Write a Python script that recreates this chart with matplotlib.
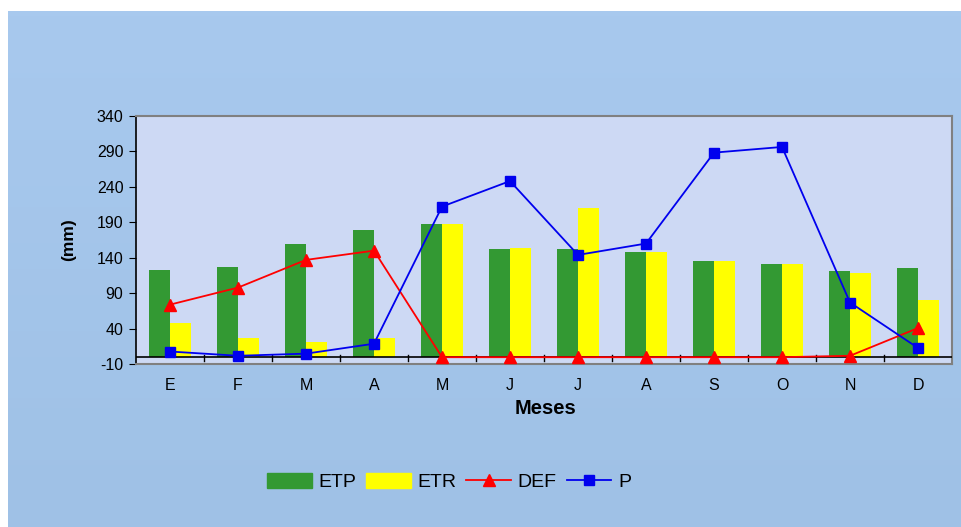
# -*- coding: utf-8 -*-
# Balance hidrico mensual: ETP, ETR, DEF y P
import numpy as np
import matplotlib
matplotlib.use('Agg')
import matplotlib.pyplot as plt
from matplotlib.lines import Line2D
from matplotlib.patches import Patch

plt.rcParams['font.family'] = ['Liberation Sans', 'DejaVu Sans']
plt.rcParams['axes.unicode_minus'] = False

meses = ['E', 'F', 'M', 'A', 'M', 'J', 'J', 'A', 'S', 'O', 'N', 'D']
etp = [123, 127, 160, 179, 187, 152, 152, 148, 135, 131, 121, 126]
etr = [48, 27, 21, 27, 187, 154, 210, 148, 135, 131, 118, 81]
defi = [74, 98, 137, 150, 0, 0, 0, 0, 0, 0, 2, 41]
prec = [8, 2, 5, 19, 212, 248, 144, 160, 288, 296, 77, 13]

fig = plt.figure(figsize=(9.61, 5.27), dpi=100, facecolor='white')

# fondo azul con degradado
bg = fig.add_axes([8/961., 0, 1 - 8/961., 1 - 11/527.])
grad = np.linspace(0, 1, 100).reshape(-1, 1)
bg.imshow(grad, aspect='auto', extent=[0, 1, 0, 1],
          cmap=matplotlib.colors.LinearSegmentedColormap.from_list('bg', ['#a8c9ee', '#9fc1e6']))
bg.axis('off')

ax = fig.add_axes([136/961., 1 - 364.3/527., (952 - 136)/961., (364.3 - 115.7)/527.])
ax.set_facecolor('#cdd9f4')

x = np.arange(len(meses))
w = 0.31
ax.bar(x - w/2, etp, w, color='#339933', zorder=2)
ax.bar(x + w/2, etr, w, color='#ffff00', zorder=2)
ax.plot(x, defi, color='red', marker='^', ms=8, lw=1.3, zorder=4)
ax.plot(x, prec, color='#0000ee', marker='s', ms=6.5, lw=1.3, zorder=5)

ax.set_xlim(-0.5, 11.5)
ax.set_ylim(-10, 340)
ax.set_yticks(np.arange(-10, 341, 50))
ax.set_xticks(x)
ax.set_xticklabels(meses)

# eje x en cero
ax.axhline(0, color='black', lw=1.2, zorder=3)
for t in np.arange(0.5, 11.5, 1):
    ax.plot([t, t], [-5, 3.5], color='black', lw=1, zorder=3)

ax.tick_params(axis='x', which='major', length=0, pad=10, labelsize=11.5)
ax.tick_params(axis='y', direction='out', length=5, labelsize=11.5, pad=4)

for s in ['top', 'right', 'bottom']:
    ax.spines[s].set_color('#808080')
    ax.spines[s].set_linewidth(1.5)
ax.spines['left'].set_color('black')
ax.spines['left'].set_linewidth(1.2)

fig.text(69/961., 1 - 240/527., '(mm)', rotation=90, fontsize=12.5,
         fontweight='bold', ha='center', va='center')
fig.text(545/961., 1 - 408/527., 'Meses', fontsize=14.5,
         fontweight='bold', ha='center', va='center')

handles = [Patch(color='#339933'), Patch(color='#ffff00'),
           Line2D([], [], color='red', marker='^', ms=8, lw=1.3),
           Line2D([], [], color='#0000ee', marker='s', ms=6.5, lw=1.3)]
fig.legend(handles, ['ETP', 'ETR', 'DEF', 'P'], loc='center',
           bbox_to_anchor=(449/961., 1 - 482/527.), ncol=4, frameon=False,
           fontsize=14, handlelength=2.3, handleheight=0.8, columnspacing=0.5,
           handletextpad=0.35)

plt.savefig('out.png', dpi=100, facecolor='white')
